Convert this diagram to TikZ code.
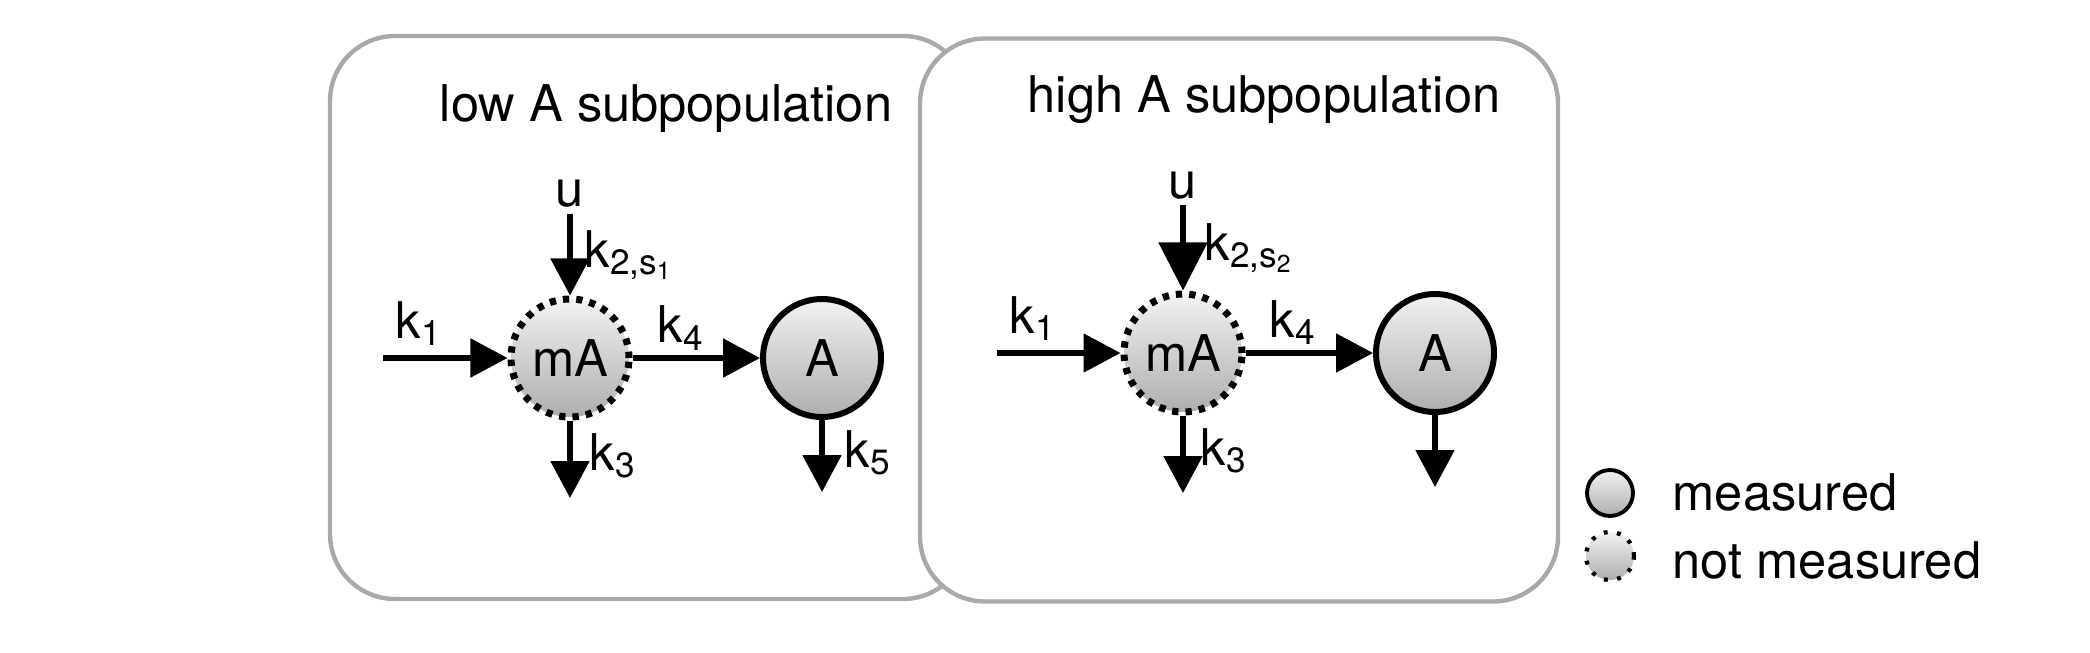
\documentclass[tikz,border=0pt]{standalone}
\usepackage{fontspec}
\setmainfont{TeX Gyre Heros}
\usetikzlibrary{arrows.meta}
\definecolor{framegray}{HTML}{A9A9A9}
\definecolor{balltop}{HTML}{F2F2F2}
\definecolor{ballbottom}{HTML}{AEAEAE}

\begin{document}
\begin{tikzpicture}[
    panel/.style={rectangle, rounded corners=0.65cm, draw=framegray, line width=1.25pt, fill=white, minimum width=6.38cm, minimum height=5.63cm},
    meas/.style={circle, draw=black, line width=1.7pt, top color=balltop, bottom color=ballbottom, minimum size=1.18cm, inner sep=0pt, font=\fontsize{14.4}{17}\selectfont},
    unmeas/.style={meas, line width=2pt, dash pattern=on 1.8pt off 2.0pt},
    lbl/.style={inner sep=0pt, anchor=base west, font=\fontsize{14.4}{17}\selectfont},
    flow/.style={-{Triangle[length=3.7mm, width=3.8mm]}, line width=1.5pt},
    bigflow/.style={-{Triangle[length=4.8mm, width=4.8mm]}, line width=1.5pt},
  ]
  \useasboundingbox (0,0) rectangle (20.9,6.52);
  \node[panel] (lowbox) at (6.49,3.345) {};
  \node[panel] (highbox) at (12.39,3.32) {};
  \node[lbl, anchor=base] (lowtitle) at (6.66,5.30) {low A subpopulation};
  \node[lbl, anchor=base] (hightitle) at (12.64,5.39) {high A subpopulation};

  \node[unmeas] (mAlow) at (5.70,2.94) {mA};
  \node[meas] (Alow) at (8.22,2.94) {A};
  \node[lbl, anchor=base, inner sep=1.5pt] (ulow) at (5.70,4.45) {u};
  \coordinate (k1low) at (3.83,2.94);
  \coordinate (k3low) at (5.70,1.54);
  \coordinate (k5low) at (8.22,1.60);
  \draw[flow] (k1low) -- (mAlow);
  \draw[flow] (ulow) -- (mAlow);
  \draw[flow] (mAlow) -- (Alow);
  \draw[flow] (mAlow) -- (k3low);
  \draw[flow] (Alow) -- (k5low);
  \node[lbl] (k1lowlbl) at (3.95,3.14) {k\textsubscript{1}};
  \node[lbl] (k2lowlbl) at (5.84,3.85) {k\textsubscript{2,s\textsubscript{1}}};
  \node[lbl] (k4lowlbl) at (6.57,3.09) {k\textsubscript{4}};
  \node[lbl] (k3lowlbl) at (5.89,1.82) {k\textsubscript{3}};
  \node[lbl] (k5lowlbl) at (8.44,1.85) {k\textsubscript{5}};

  \node[unmeas] (mAhigh) at (11.83,2.99) {mA};
  \node[meas] (Ahigh) at (14.35,2.99) {A};
  \node[lbl, anchor=base, inner sep=1.5pt] (uhigh) at (11.83,4.54) {u};
  \coordinate (k1high) at (9.97,2.99);
  \coordinate (k3high) at (11.83,1.59);
  \coordinate (k5high) at (14.35,1.65);
  \draw[flow] (k1high) -- (mAhigh);
  \draw[bigflow] (uhigh) -- (mAhigh);
  \draw[flow] (mAhigh) -- (Ahigh);
  \draw[flow] (mAhigh) -- (k3high);
  \draw[flow] (Ahigh) -- (k5high);
  \node[lbl] (k1highlbl) at (10.09,3.19) {k\textsubscript{1}};
  \node[lbl] (k2highlbl) at (12.04,3.92) {k\textsubscript{2,s\textsubscript{2}}};
  \node[lbl] (k4highlbl) at (12.69,3.15) {k\textsubscript{4}};
  \node[lbl] (k3highlbl) at (12.00,1.87) {k\textsubscript{3}};

  \node[meas, minimum size=0.46cm, line width=1.1pt] (legmeas) at (16.10,1.59) {};
  \node[unmeas, minimum size=0.48cm, line width=1.2pt, dash pattern=on 1.1pt off 2.7pt] (legunmeas) at (16.10,0.96) {};
  \node[lbl] (legmeastxt) at (16.72,1.42) {measured};
  \node[lbl] (legunmeastxt) at (16.72,0.74) {not measured};
\end{tikzpicture}
\end{document}
